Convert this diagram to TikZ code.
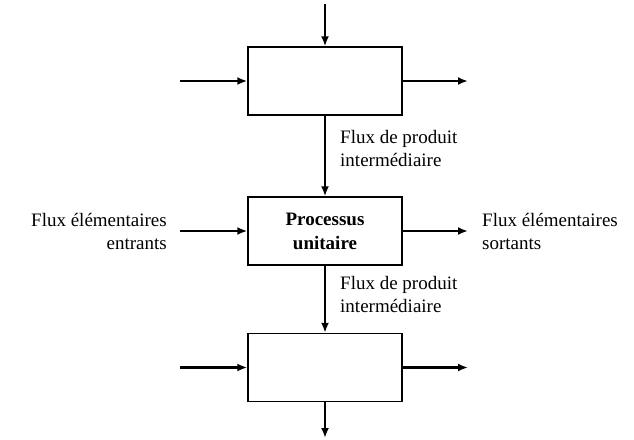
\documentclass[tikz,border=0pt]{standalone}
\usepackage{fontspec}
\setmainfont{Liberation Serif}
\usetikzlibrary{arrows.meta,positioning}

\begin{document}
\begin{tikzpicture}[x=1pt,y=-1pt,
    proc/.style={draw,line width=1.4pt,minimum width=154pt,minimum height=68pt,inner sep=0pt,
                 align=center,font=\fontsize{19}{24}\selectfont\bfseries},
    flux/.style={line width=2.8pt,-{Latex[length=10pt,width=8pt]}},
    lbl/.style={inner sep=0pt,font=\fontsize{19}{23}\selectfont}]

    \useasboundingbox (0,0) rectangle (634,439);

    % the three unit processes
    \node[proc] (haut) at (325,81) {};
    \node[proc] (unit) at (325,231) {Processus\\unitaire};
    \node[proc] (bas)  at (325,367.5) {};

    % free ends of the flows
    \coordinate (hautN) at (325,4);
    \coordinate (hautW) at (180,81);
    \coordinate (hautE) at (468,81);
    \coordinate (unitW) at (180,231);
    \coordinate (unitE) at (468,231);
    \coordinate (basW)  at (180,367.5);
    \coordinate (basE)  at (468,367.5);
    \coordinate (basS)  at (325,438);

    \draw[flux] (hautN) -- (haut.north);
    \draw[flux] (hautW) -- (haut.west);
    \draw[flux] (haut.east) -- (hautE);
    \draw[flux] (haut.south) -- (unit.north);
    \draw[flux] (unitW) -- (unit.west);
    \draw[flux] (unit.east) -- (unitE);
    \draw[flux] (unit.south) -- (bas.north);
    \draw[flux] (basW) -- (bas.west);
    \draw[flux] (bas.east) -- (basE);
    \draw[flux] (bas.south) -- (basS);

    % labels
    \node[lbl,anchor=north west,align=left] (inter1) at (340,130) {Flux de produit\\intermédiaire};
    \node[lbl,anchor=north west,align=left] (inter2) at (340,276) {Flux de produit\\intermédiaire};
    \node[lbl,anchor=east,align=right] (entrants) at (167,231) {Flux élémentaires\\entrants};
    \node[lbl,anchor=west,align=left] (sortants) at (482,231) {Flux élémentaires\\sortants};

\end{tikzpicture}
\end{document}
